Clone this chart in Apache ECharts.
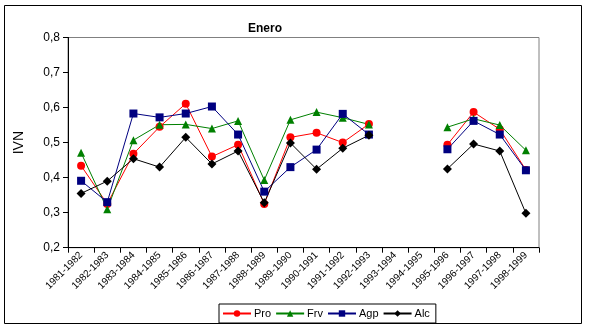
<!DOCTYPE html>
<html>
<head>
<meta charset="utf-8">
<script src="https://cdn.jsdelivr.net/npm/echarts@6/dist/echarts.min.js"></script>
<style>html,body{margin:0;padding:0;background:#fff}#c{width:589px;height:330px}</style>
</head>
<body>
<div id="c"></div>
<script>
var categories = ['1981-1982','1982-1983','1983-1984','1984-1985','1985-1986','1986-1987','1987-1988','1988-1989','1989-1990','1990-1991','1991-1992','1992-1993','1993-1994','1994-1995','1995-1996','1996-1997','1997-1998','1998-1999'];
var pro = [0.434,0.325,0.468,0.545,0.611,0.460,0.494,0.325,0.515,0.528,0.500,0.553,null,null,0.494,0.587,0.538,0.422];
var frv = [0.471,0.310,0.507,0.551,0.552,0.540,0.562,0.393,0.565,0.587,0.571,0.552,null,null,0.544,0.568,0.550,0.478];
var agp = [0.391,0.330,0.583,0.572,0.583,0.603,0.523,0.360,0.430,0.480,0.582,0.523,null,null,0.481,0.562,0.523,0.421];
var alc = [0.355,0.390,0.454,0.430,0.515,0.439,0.476,0.328,0.499,0.424,0.484,0.521,null,null,0.425,0.496,0.476,0.298];
var yTicks = [0.2,0.3,0.4,0.5,0.6,0.7,0.8];

var FONT = 'Liberation Sans, Arial, sans-serif';
function mk(name, data, color, symbol, size) {
  return {
    name: name, type: 'line', data: data, connectNulls: false,
    symbol: symbol, symbolSize: size, showSymbol: true,
    lineStyle: {color: color, width: 1},
    itemStyle: {color: color, borderWidth: 0},
    emphasis: {disabled: true}, animation: false
  };
}
var chart = echarts.init(document.getElementById('c'), null, {renderer: 'canvas'});
chart.setOption({
  animation: false,
  backgroundColor: '#fff',
  title: {text: 'Enero', left: 260, top: 18, textAlign: 'center',
    textStyle: {fontFamily: FONT, fontSize: 12, fontWeight: 'bold', color: '#000'}},
  grid: {left: 68, right: 50, top: 37.5, bottom: 82.3, show: true, borderColor: '#808080', borderWidth: 1, backgroundColor: '#fff'},
  graphic: [{type: 'rect', shape: {x: 4.5, y: 5.5, width: 577, height: 318}, style: {fill: 'none', stroke: '#000', lineWidth: 1}, silent: true, z: -1}],
  xAxis: {
    type: 'category', data: categories, boundaryGap: true,
    axisLine: {lineStyle: {color: '#000', width: 1}},
    axisTick: {show: true, alignWithLabel: false, length: 5, lineStyle: {color: '#000'}},
    axisLabel: {rotate: 45, interval: 0, fontFamily: FONT, fontSize: 10, color: '#000', margin: 6},
    splitLine: {show: false}
  },
  yAxis: {
    type: 'value', min: 0.2, max: 0.8, interval: 0.1,
    name: 'IVN', nameLocation: 'middle', nameGap: 42, nameRotate: 90,
    nameTextStyle: {fontFamily: FONT, fontSize: 14, color: '#000'},
    axisLine: {show: true, lineStyle: {color: '#000', width: 1}},
    axisTick: {show: true, length: 5, lineStyle: {color: '#000'}},
    axisLabel: {fontFamily: FONT, fontSize: 12, color: '#000', margin: 8,
      formatter: function (v) { return v.toFixed(1).replace('.', ','); }},
    splitLine: {show: false}
  },
  legend: {
    data: ['Pro','Frv','Agp','Alc'], left: 219, top: 304, orient: 'horizontal',
    itemWidth: 28, itemHeight: 8, itemGap: 4, padding: [4, 6, 4, 3],
    borderColor: '#000', borderWidth: 1, backgroundColor: '#fff',
    textStyle: {fontFamily: FONT, fontSize: 11, color: '#000', padding: [0,0,0,-2]}
  },
  series: [
    mk('Pro', pro, '#ff0000', 'circle', 8),
    mk('Frv', frv, '#008000', 'triangle', 8),
    mk('Agp', agp, '#000080', 'rect', 8),
    mk('Alc', alc, '#000000', 'diamond', 9)
  ]
});
</script>
</body>
</html>
